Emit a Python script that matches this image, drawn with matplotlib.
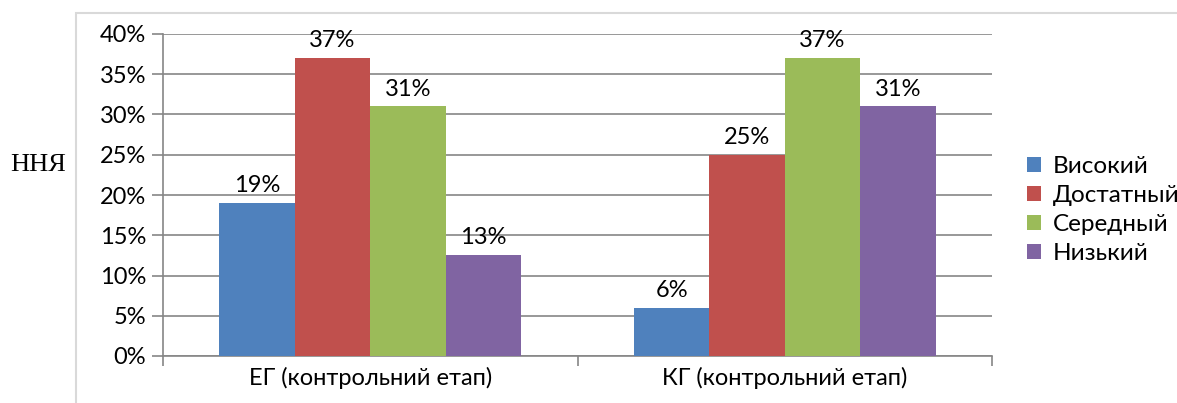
import matplotlib.pyplot as plt
from matplotlib.patches import Rectangle, Patch
from matplotlib.ticker import PercentFormatter
import numpy as np

# données
categories = ['ЕГ (контрольний етап)', 'КГ (контрольний етап)']
series = ['Високий', 'Достатный', 'Середный', 'Низький']
values = {
    'Високий': [19, 6],
    'Достатный': [37, 25],
    'Середный': [31, 37],
    'Низький': [12.5, 31],
}
labels = {
    'Високий': ['19%', '6%'],
    'Достатный': ['37%', '25%'],
    'Середный': ['31%', '37%'],
    'Низький': ['13%', '31%'],
}
colors = ['#4F81BD', '#C0504D', '#9BBB59', '#8064A2']

plt.rcParams['font.family'] = ['Lato', 'DejaVu Sans']
fs = 17

fig = plt.figure(figsize=(11.77, 4.03), dpi=100)
ax = fig.add_axes([163 / 1177, 1 - 356 / 403, (992 - 163) / 1177, (356 - 34) / 403])

# cadre gris autour du graphique
fig.patches.append(Rectangle((76 / 1177, -0.1), 1.2, 1 - 13 / 403 + 0.1, transform=fig.transFigure,
                             facecolor='none', edgecolor='#D9D9D9', linewidth=1.5, zorder=0))

x = np.arange(len(categories))
w = 0.182
for i, s in enumerate(series):
    pos = x + (i - 1.5) * w
    bars = ax.bar(pos, values[s], w, color=colors[i], zorder=3)
    for b, lab in zip(bars, labels[s]):
        ax.annotate(lab, (b.get_x() + b.get_width() / 2, b.get_height()), xytext=(0, 5),
                    textcoords='offset points', ha='center', va='bottom', fontsize=fs)

ax.set_xlim(-0.5, 1.5)
ax.set_ylim(0, 40)
ax.set_yticks(np.arange(0, 41, 5))
ax.yaxis.set_major_formatter(PercentFormatter(decimals=0))
ax.grid(axis='y', color='#868686', linewidth=1.2, zorder=0)

ax.set_xticks([-0.5, 0.5, 1.5])
ax.set_xticklabels([])
ax.set_xticks(x, minor=True)
ax.set_xticklabels(categories, minor=True, fontsize=fs)
ax.tick_params(axis='x', which='minor', length=0, pad=8)
ax.tick_params(axis='x', which='major', length=7.5, width=1.2, color='#868686')
ax.tick_params(axis='y', length=8, width=1.2, color='#868686', labelsize=fs, pad=4)

for sp in ['top', 'right']:
    ax.spines[sp].set_visible(False)
for sp in ['left', 'bottom']:
    ax.spines[sp].set_color('#868686')
    ax.spines[sp].set_linewidth(1.2)

fig.text(38 / 1177, 1 - 165 / 403, 'ННЯ', family='Liberation Serif', fontsize=19,
         ha='center', va='center')

handles = [Patch(facecolor=c) for c in colors]
fig.legend(handles, series, loc='center left', bbox_to_anchor=(1005 / 1177, 1 - 210 / 403),
           frameon=False, fontsize=17.5, handlelength=0.6, handleheight=0.6,
           handletextpad=0.45, labelspacing=0.33)

fig.savefig('out.png', dpi=100)
